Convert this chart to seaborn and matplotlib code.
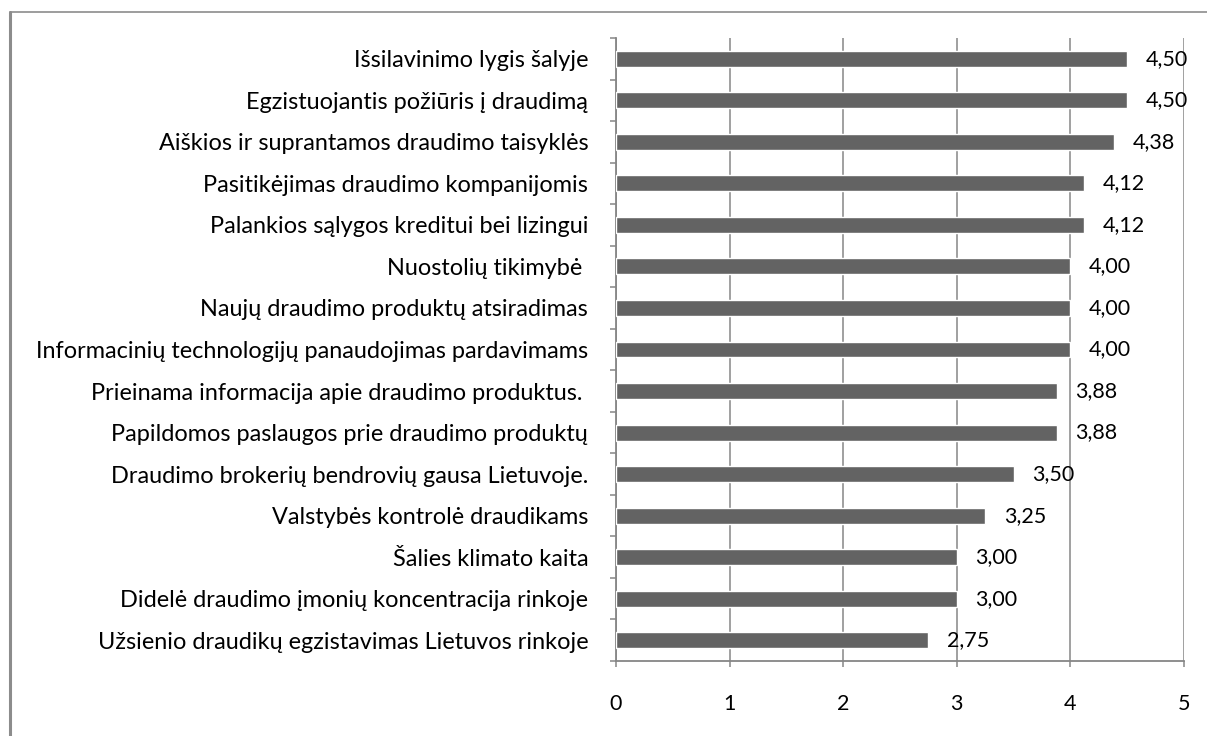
import matplotlib
matplotlib.use("Agg")
import matplotlib.pyplot as plt
import seaborn as sns
import pandas as pd
import numpy as np
from matplotlib.ticker import FixedLocator
from matplotlib.lines import Line2D

categories = [
    "Išsilavinimo lygis šalyje",
    "Egzistuojantis požiūris į draudimą",
    "Aiškios ir suprantamos draudimo taisyklės",
    "Pasitikėjimas draudimo kompanijomis",
    "Palankios sąlygos kreditui bei lizingui",
    "Nuostolių tikimybė ",
    "Naujų draudimo produktų atsiradimas",
    "Informacinių technologijų panaudojimas pardavimams",
    "Prieinama informacija apie draudimo produktus. ",
    "Papildomos paslaugos prie draudimo produktų",
    "Draudimo brokerių bendrovių gausa Lietuvoje.",
    "Valstybės kontrolė draudikams",
    "Šalies klimato kaita",
    "Didelė draudimo įmonių koncentracija rinkoje",
    "Užsienio draudikų egzistavimas Lietuvos rinkoje",
]
values = [4.50, 4.50, 4.38, 4.12, 4.12, 4.00, 4.00, 4.00, 3.88, 3.88, 3.50, 3.25, 3.00, 3.00, 2.75]
x_ticks = [0, 1, 2, 3, 4, 5]

sns.set_theme(style="white")
plt.rcParams["font.family"] = ["Lato", "DejaVu Sans"]

df = pd.DataFrame({"cat": categories, "val": values})

fig = plt.figure(figsize=(12.07, 7.36), dpi=100)
ax = fig.add_axes([616 / 1207, 1 - 661 / 736, (1184 - 616) / 1207, (661 - 38) / 736])

grid_c = "#868686"
sns.barplot(data=df, y="cat", x="val", orient="h", color="#636363", width=0.385,
            saturation=1, ax=ax, zorder=3)

ax.set_xlim(0, 5)
ax.set_ylim(len(categories) - 0.5, -0.5)
ax.set_xticks(x_ticks)
ax.set_xticklabels([str(t) for t in x_ticks])
ax.set_xlabel("")
ax.set_ylabel("")
ax.xaxis.grid(True, color=grid_c, linewidth=1.1, zorder=0)
ax.yaxis.grid(False)
ax.set_axisbelow(True)

for s in ["top", "right"]:
    ax.spines[s].set_visible(False)
for s in ["left", "bottom"]:
    ax.spines[s].set_color(grid_c)
    ax.spines[s].set_linewidth(1.3)

ax.tick_params(axis="x", which="major", direction="out", length=4.5, width=1.1,
               color=grid_c, pad=19, labelsize=15.5, labelcolor="black", bottom=True)
ax.tick_params(axis="y", which="major", length=0, pad=20, labelsize=16.9, labelcolor="black")
ax.yaxis.set_minor_locator(FixedLocator(np.arange(-0.5, len(categories), 1.0)))
ax.tick_params(axis="y", which="minor", direction="out", length=4.5, width=1.1,
               color=grid_c, left=True)

for i, v in enumerate(values):
    ax.text(v + 0.165, i, f"{v:.2f}".replace(".", ","), va="center", ha="left",
            fontsize=15.5, color="black", zorder=5)

# figure border (top and left visible)
fig.add_artist(Line2D([9.5 / 1207, 1], [1 - 11.5 / 736, 1 - 11.5 / 736],
                      transform=fig.transFigure, color="#8c8c8c", linewidth=1.2))
fig.add_artist(Line2D([9.5 / 1207, 9.5 / 1207], [0, 1 - 11.5 / 736],
                      transform=fig.transFigure, color="#8c8c8c", linewidth=2.2))

fig.savefig("out.png", dpi=100)
